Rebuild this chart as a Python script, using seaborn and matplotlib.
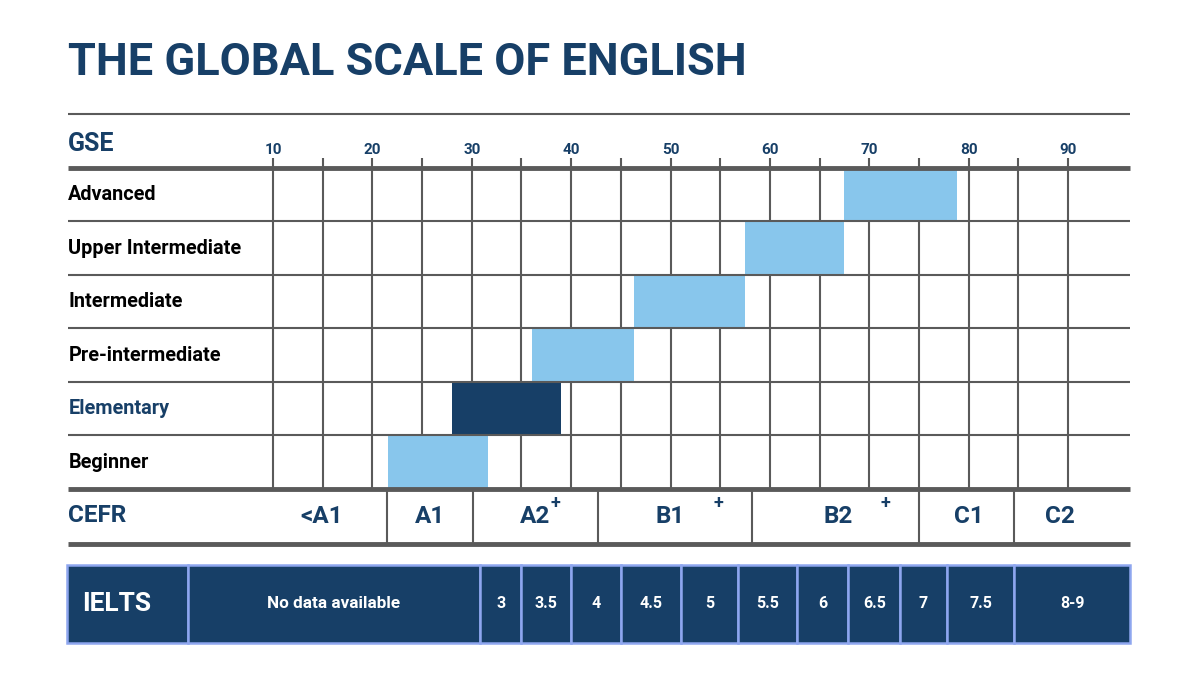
import matplotlib
matplotlib.use("Agg")
import matplotlib.pyplot as plt
import seaborn as sns
import pandas as pd

# data
levels = ["Advanced", "Upper Intermediate", "Intermediate",
          "Pre-intermediate", "Elementary", "Beginner"]
gse_start = [67.5, 57.5, 46.3, 36.1, 28.0, 21.6]
gse_end = [78.8, 67.5, 57.5, 46.3, 39.0, 31.6]
highlight = "Elementary"

gse_ticks = [10, 20, 30, 40, 50, 60, 70, 80, 90]

cefr_bounds = [21.5, 30.1, 42.7, 58.2, 75.0, 84.6]
cefr_labels = ["<A1", "A1", "A2", "B1", "B2", "C1", "C2"]
cefr_label_x = [14.9, 25.8, 36.4, 50.0, 66.9, 80.0, 89.2]
cefr_plus_x = [38.4, 54.8, 71.6]

ielts_bounds = [1.4, 30.8, 35.0, 40.0, 45.0, 51.1, 56.8, 62.7, 67.9, 73.1, 77.8, 84.6, 96.2]
ielts_labels = ["No data available", "3", "3.5", "4", "4.5", "5", "5.5",
                "6", "6.5", "7", "7.5", "8-9"]

# colours
NAVY = "#173f67"
LIGHT = "#88c6ec"
GRID = "#5a5a5a"
EDGE = "#8ea6ef"

sns.set_style("white")
plt.rcParams["font.family"] = ["Roboto", "DejaVu Sans"]
plt.rcParams["font.weight"] = "bold"

fig = plt.figure(figsize=(12, 6.75), dpi=100)
ax = fig.add_axes([0, 0, 1, 1])

# layout (x in GSE units, y in row units, row 0 = Advanced)
X0, X1 = -10.6, 96.2
TOP_LINE, TICK_TOP = -1.51, -0.69
CEFR_BOT = 6.53
IE_TOP, IE_BOT = 6.92, 8.38

df = pd.DataFrame({"level": levels,
                   "width": [e - s for s, e in zip(gse_start, gse_end)]})
bar_colors = [NAVY if lv == highlight else LIGHT for lv in levels]
sns.barplot(data=df, x="width", y="level", order=levels, orient="y",
            color=LIGHT, saturation=1, left=gse_start, width=1.0,
            facecolor=bar_colors, linewidth=0, errorbar=None, zorder=2, ax=ax)

# vertical grid
grid_x = list(range(10, 95, 5))
ax.vlines(grid_x, TICK_TOP, 5.5, color=GRID, lw=1.5, zorder=1)
# row separators
ax.hlines([0.5, 1.5, 2.5, 3.5, 4.5], X0, X1, color=GRID, lw=1.5, zorder=3)
ax.hlines([-0.5, 5.5, CEFR_BOT], X0, X1, color=GRID, lw=3.5, zorder=4)
ax.hlines([TOP_LINE], X0, X1, color=GRID, lw=1.5, zorder=3)
ax.vlines(cefr_bounds, 5.5, CEFR_BOT, color=GRID, lw=1.5, zorder=3)

# texts
ax.text(X0, -2.47, "THE GLOBAL SCALE OF ENGLISH", fontsize=32.5, color=NAVY,
        fontweight="bold", va="center", ha="left")
ax.text(X0, -0.95, "GSE", fontsize=18, color=NAVY, va="center", ha="left")
for t in gse_ticks:
    ax.text(t, -0.83, str(t), fontsize=11, color=NAVY, va="center", ha="center")
for i, lv in enumerate(levels):
    ax.text(X0, i, lv, fontsize=14.3, va="center", ha="left",
            color=NAVY if lv == highlight else "black")

ax.text(X0, 6.0, "CEFR", fontsize=17.5, color=NAVY, va="center", ha="left")
for lab, x in zip(cefr_labels, cefr_label_x):
    ax.text(x, 6.02, lab, fontsize=17.5, color=NAVY, va="center", ha="center")
for x in cefr_plus_x:
    ax.text(x, 5.76, "+", fontsize=13, color=NAVY, va="center", ha="center")

# IELTS row
ie_left = [-10.7] + ielts_bounds[:-1]
ie_width = [b - a for a, b in zip(ie_left, ielts_bounds)]
ax.bar(ie_left, IE_BOT - IE_TOP, width=ie_width, bottom=IE_TOP, align="edge",
       facecolor=NAVY, edgecolor=EDGE, linewidth=1.8, zorder=2)
ie_mid = (IE_TOP + IE_BOT) / 2
ax.text(-9.2, ie_mid, "IELTS", fontsize=19, color="white", va="center", ha="left")
for lab, a, b in zip(ielts_labels, ielts_bounds[:-1], ielts_bounds[1:]):
    ax.text((a + b) / 2, ie_mid, lab, fontsize=12.3 if len(lab) > 3 else 11.5,
            color="white", va="center", ha="center")

ax.set_xlim(-17.47, 103.28)
ax.set_ylim(8.98, -3.64)
ax.axis("off")

fig.savefig("out.png", dpi=100, facecolor="white")
